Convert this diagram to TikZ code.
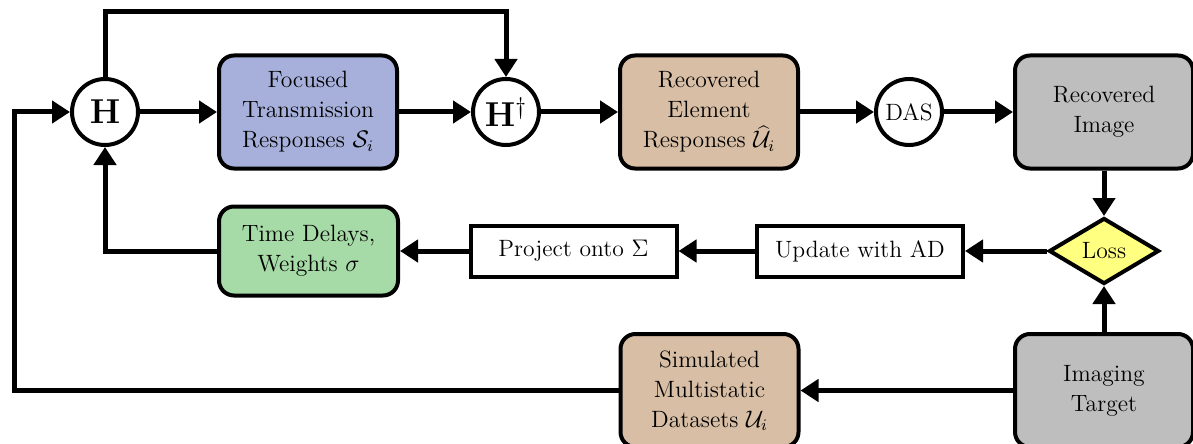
\documentclass[tikz,border=0pt]{standalone}
\usetikzlibrary{shapes.geometric,arrows.meta}
\definecolor{cblue}{HTML}{A6B0DA}
\definecolor{ctan}{HTML}{D8BEA5}
\definecolor{cgray}{HTML}{BEBEBE}
\definecolor{cgreen}{HTML}{A6DAA6}
\definecolor{cyellow}{HTML}{FFFF80}
\begin{document}
\begin{tikzpicture}[x=0.5pt,y=-0.5pt,
  every node/.style={font=\fontsize{11.8}{15}\selectfont, align=center, line width=2pt, draw, inner sep=0pt},
  rbox/.style={rounded corners=7.5pt, minimum width=89pt, minimum height=56.5pt},
  lowbox/.style={rounded corners=7.5pt, minimum width=89.5pt, minimum height=44.5pt},
  sbox/.style={minimum height=25.5pt, minimum width=103pt},
  opnode/.style={circle, minimum size=33pt, fill=white},
  bigop/.style={font=\fontsize{18}{20}\selectfont},
  lossnode/.style={diamond, minimum width=55pt, minimum height=33pt, fill=cyellow},
  conn/.style={line width=2.5pt, -{Triangle[length=9pt,width=11pt]}}]
\useasboundingbox (0,0) rectangle (1193,444);

% top row
\node[opnode, bigop] (H) at (105,112) {$\mathbf{H}$};
\node[rbox, fill=cblue] (S) at (308,112) {Focused\\Transmission\\Responses $\mathcal{S}_i$};
\node[opnode, bigop] (Hd) at (506,112) {$\mathbf{H}^{\dagger}$};
\node[rbox, fill=ctan] (U) at (709,112) {Recovered\\Element\\Responses $\widehat{\mathcal{U}}_i$};
\node[opnode] (DAS) at (909,112) {DAS};
\node[rbox, fill=cgray] (RI) at (1104,112) {Recovered\\Image};

% middle row
\node[lowbox, fill=cgreen] (TD) at (308.5,251) {Time Delays,\\Weights $\sigma$};
\node[sbox] (P) at (573.5,251) {Project onto $\Sigma$};
\node[sbox] (UP) at (860,251) {Update with AD};
\node[lossnode] (L) at (1104,251) {Loss};

% bottom row
\node[rbox, fill=ctan] (SM) at (709.5,390.5) {Simulated\\Multistatic\\Datasets $\mathcal{U}_i$};
\node[rbox, fill=cgray] (IT) at (1104,390.5) {Imaging\\Target};

\coordinate (topL) at (105,12);
\coordinate (topR) at (506,12);
\coordinate (botL) at (14,390.5);
\coordinate (midL) at (14,112);

% connectors
\draw[conn] (H) -- (S);
\draw[conn] (S) -- (Hd);
\draw[conn] (Hd) -- (U);
\draw[conn] (U) -- (DAS);
\draw[conn] (DAS) -- (RI);
\draw[conn] (RI.south) -- (L.north);
\draw[conn] (IT.north) -- (L.south);
\draw[conn] (L.west) -- (UP.east);
\draw[conn] (UP.west) -- (P.east);
\draw[conn] (P.west) -- (TD.east);
\draw[conn] (TD.west) -| (H.south);
\draw[conn] (IT.west) -- (SM.east);
\draw[conn] (SM.west) -- (botL) -- (midL) -- (H.west);
\draw[conn] (H.north) -- (topL) -- (topR) -- (Hd.north);
\end{tikzpicture}
\end{document}
